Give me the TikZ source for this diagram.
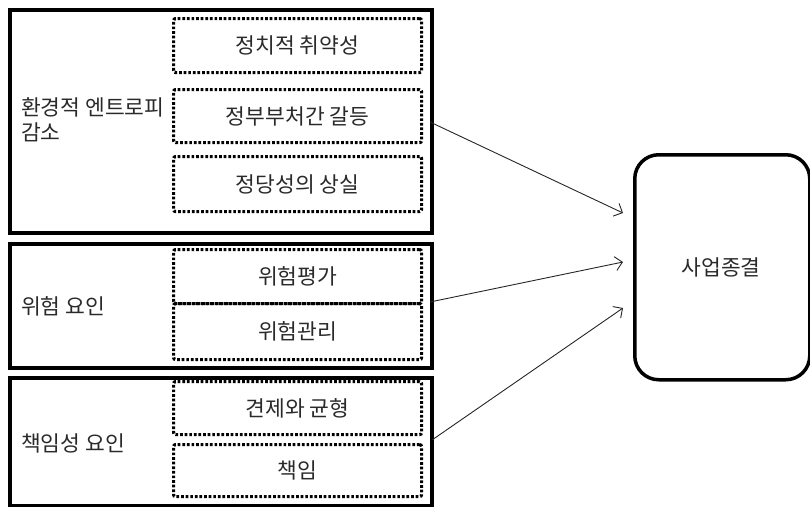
\documentclass[tikz,border=0pt]{standalone}
\usepackage{fontspec}
\setmainfont{Noto Sans CJK KR}
\usetikzlibrary{arrows.meta}
\definecolor{txt}{HTML}{2A2A2A}
\tikzset{
  outerbox/.style={draw=black, line width=3.5pt, minimum width=422pt, anchor=north west, inner sep=0pt},
  dotbox/.style={draw=black, line width=3.2pt, dash pattern=on 2.7pt off 1.9pt, rounded corners=2pt, minimum width=248pt, anchor=north west, inner sep=0pt},
  boxtext/.style={text=txt, inner sep=0pt, font=\fontsize{21.5}{24}\selectfont},
  lbl/.style={anchor=west, align=left, text=txt, inner sep=0pt, font=\fontsize{21.5}{25}\selectfont},
  arr/.style={draw=black!85, line width=0.9pt, -{Straight Barb[length=7pt,width=14pt]}}
}
\begin{document}
\begin{tikzpicture}[x=1pt,y=-1pt]
\useasboundingbox (0,0) rectangle (810,506);
\begin{scope}
\clip (0,0) rectangle (810,506);
% outer groups
\node[outerbox, minimum height=223pt] (g1) at (8,8) {};
\node[outerbox, minimum height=124pt] (g2) at (8,242) {};
\node[outerbox, minimum height=128pt] (g3) at (8,376) {};
% dotted boxes
\node[dotbox, minimum height=54pt] (a) at (172,17) {};
\node[dotbox, minimum height=53pt] (b) at (172,88) {};
\node[dotbox, minimum height=55pt] (c) at (172,155) {};
\node[dotbox, minimum height=54pt] (d) at (172,248) {};
\node[dotbox, minimum height=56pt] (e) at (172,302) {};
\node[dotbox, minimum height=53pt] (f) at (172,380) {};
\node[dotbox, minimum height=52pt] (g) at (172,443) {};
% texts in dotted boxes
\node[boxtext] (ta) at (a.center) {정치적 취약성};
\node[boxtext] (tb) at (b.center) {정부부처간 갈등};
\node[boxtext] (tc) at (c.center) {정당성의 상실};
\node[boxtext] (td) at (d.center) {위험평가};
\node[boxtext] (te) at (e.center) {위험관리};
\node[boxtext] (tf) at (f.center) {견제와 균형};
\node[boxtext] (tg) at (g.center) {책임};
% group labels
\node[lbl] (l1) at (21,120) {환경적 엔트로피\\감소};
\node[lbl] (l2) at (21,306) {위험 요인};
\node[lbl] (l3) at (21,443) {책임성 요인};
% final box
\node[draw=black, line width=3.5pt, rounded corners=24pt, minimum width=175pt, minimum height=225pt, anchor=north west, inner sep=0pt] (fin) at (633,153) {};
\node[boxtext] (tfin) at (721,267) {사업종결};
% arrow ends
\coordinate (t1) at (623,213);
\coordinate (t2) at (623,262);
\coordinate (t3) at (623,308);
\coordinate (s1) at (430,122);
\coordinate (s2) at (430,302);
\coordinate (s3) at (432,440);
\draw[arr] (s1) -- (t1);
\draw[arr] (s2) -- (t2);
\draw[arr] (s3) -- (t3);
\end{scope}
\end{tikzpicture}
\end{document}
